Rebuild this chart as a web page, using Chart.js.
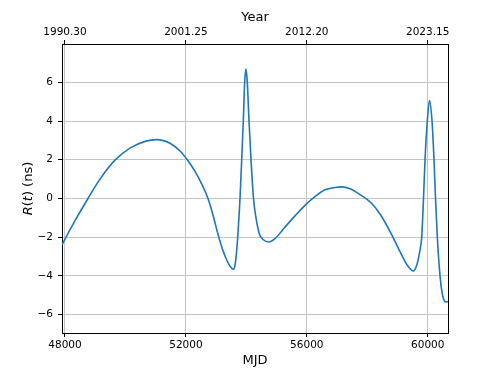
<!DOCTYPE html>
<html>
<head>
<meta charset="utf-8">
<script src="https://cdn.jsdelivr.net/npm/chart.js@4/dist/chart.umd.min.js"></script>
<style>
html,body{margin:0;padding:0;background:#fff;}
#wrap{width:498px;height:374px;}
</style>
</head>
<body>
<div id="wrap"><canvas id="c" width="498" height="374"></canvas></div>
<script>
// ---- data ----
const mjd = [47901, 47967, 48331, 48761, 49158, 49654, 50151, 50647, 51044, 51474, 51805, 52069, 52301, 52533, 52731, 52896, 53062, 53227, 53393, 53492, 53568, 53624, 53674, 53714, 53790, 53846, 53899, 53945, 53988, 54031, 54088, 54154, 54236, 54319, 54435, 54551, 54749, 54947, 55212, 55610, 56006, 56271, 56602, 56933, 57165, 57429, 57760, 58124, 58422, 58802, 59083, 59348, 59523, 59646, 59729, 59801, 59861, 59911, 59987, 60060, 60142, 60208, 60258, 60318, 60407, 60473, 60539, 60605, 60671];
const residual = [-2.41, -2.2, -1.15, 0.0, 1.0, 1.98, 2.6, 2.95, 3.04, 2.85, 2.45, 1.95, 1.4, 0.72, 0.0, -0.85, -1.85, -2.7, -3.32, -3.57, -3.66, -3.45, -2.8, -2.0, 0.0, 2.0, 4.0, 6.0, 6.68, 6.0, 4.0, 2.0, 0.0, -1.0, -1.85, -2.12, -2.25, -2.08, -1.6, -0.9, -0.25, 0.1, 0.45, 0.57, 0.6, 0.5, 0.2, -0.22, -0.8, -1.85, -2.75, -3.5, -3.75, -3.4, -2.8, -2.0, 0.0, 2.0, 4.0, 5.06, 4.0, 2.0, 0.0, -2.0, -4.0, -4.85, -5.25, -5.35, -5.33];
const mjdTicks = [48000, 52000, 56000, 60000];
const yearTickLabels = ['1990.30', '2001.25', '2012.20', '2023.15'];
const yTicks = [-6, -4, -2, 0, 2, 4, 6];
const xMin = 47901, xMax = 60671;
const yMin = -6.95, yMax = 7.98;

const FONT = 'DejaVu Sans';
const tickFont = {family: FONT, size: 10.5};
const titleFont = {family: FONT, size: 13};
const GRID = '#c4c4c4';

const points = mjd.map((x, i) => ({x: x, y: residual[i]}));

const yTitlePlugin = {
  id: 'yTitle',
  afterDraw(chart) {
    const ctx = chart.ctx;
    const area = chart.chartArea;
    const parts = [
      ['R', 'italic'], ['(', ''], ['t', 'italic'], [') (ns)', '']
    ];
    ctx.save();
    ctx.translate(29, (area.top + area.bottom) / 2);
    ctx.rotate(-Math.PI / 2);
    ctx.fillStyle = '#000';
    ctx.textBaseline = 'middle';
    ctx.textAlign = 'left';
    let total = 0;
    const widths = parts.map(p => {
      ctx.font = (p[1] ? p[1] + ' ' : '') + '13px "' + FONT + '"';
      const w = ctx.measureText(p[0]).width;
      total += w;
      return w;
    });
    let x = -total / 2;
    parts.forEach((p, i) => {
      ctx.font = (p[1] ? p[1] + ' ' : '') + '13px "' + FONT + '"';
      ctx.fillText(p[0], x, 0);
      x += widths[i];
    });
    ctx.restore();
  }
};

function setTicks(values) {
  return scale => { scale.ticks = values.map(v => ({value: v})); };
}
const minus = v => (v < 0 ? '\u2212' + Math.abs(v) : String(v));

new Chart(document.getElementById('c'), {
  type: 'line',
  data: {
    datasets: [{
      data: points,
      borderColor: '#1f77b4',
      borderWidth: 1.6,
      pointRadius: 0,
      fill: false,
      cubicInterpolationMode: 'monotone',
      xAxisID: 'x',
      yAxisID: 'y'
    }]
  },
  options: {
    responsive: false,
    animation: false,
    events: [],
    layout: {padding: 0},
    plugins: {legend: {display: false}, tooltip: {enabled: false}},
    scales: {
      x: {
        type: 'linear', position: 'bottom', min: xMin, max: xMax,
        afterBuildTicks: setTicks(mjdTicks),
        afterFit: s => { s.height = 41; },
        ticks: {color: '#000', font: tickFont, padding: 2, maxRotation: 0, autoSkip: false,
                callback: v => String(v)},
        grid: {color: GRID, lineWidth: 1, tickColor: '#000', tickLength: 4, tickWidth: 1},
        border: {display: true, color: '#000', width: 1},
        title: {display: true, text: 'MJD', color: '#000', font: titleFont, padding: {top: 0, bottom: 5.5}}
      },
      xTop: {
        type: 'linear', position: 'top', min: xMin, max: xMax,
        afterBuildTicks: setTicks(mjdTicks),
        afterFit: s => { s.height = 44; },
        ticks: {color: '#000', font: tickFont, padding: 1.5, maxRotation: 0, autoSkip: false,
                callback: v => yearTickLabels[mjdTicks.indexOf(v)]},
        grid: {drawOnChartArea: false, tickColor: '#000', tickLength: 4, tickWidth: 1},
        border: {display: true, color: '#000', width: 1},
        title: {display: true, text: 'Year', color: '#000', font: titleFont, padding: {top: 10, bottom: 0}}
      },
      y: {
        type: 'linear', position: 'left', min: yMin, max: yMax,
        afterBuildTicks: setTicks(yTicks),
        afterFit: s => { s.width = 62; },
        ticks: {color: '#000', font: tickFont, padding: 5, callback: v => minus(v)},
        grid: {color: GRID, lineWidth: 1, tickColor: '#000', tickLength: 4, tickWidth: 1},
        border: {display: true, color: '#000', width: 1}
      },
      yRight: {
        type: 'linear', position: 'right', min: yMin, max: yMax,
        afterFit: s => { s.width = 50; },
        ticks: {display: false},
        grid: {drawOnChartArea: false, drawTicks: false},
        border: {display: true, color: '#000', width: 1}
      }
    }
  },
  plugins: [yTitlePlugin]
});
</script>
</body>
</html>
